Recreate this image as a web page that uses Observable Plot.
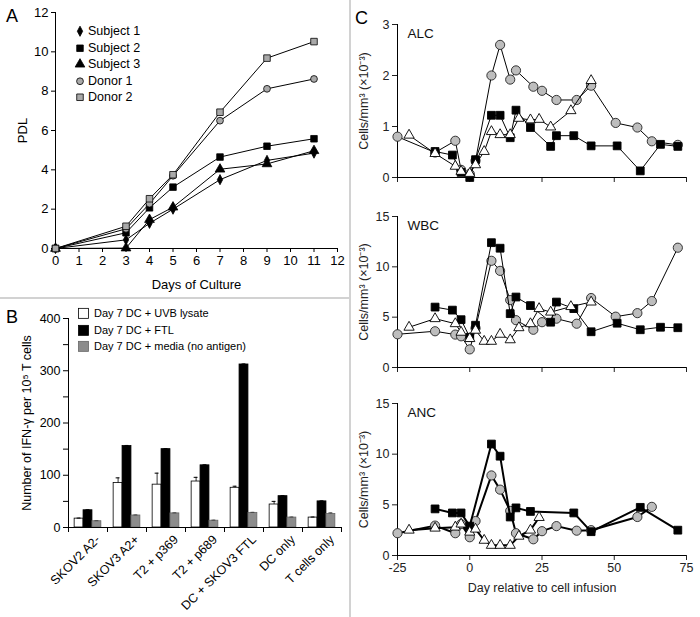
<!DOCTYPE html>
<html>
<head>
<meta charset="utf-8">
<script src="https://cdn.jsdelivr.net/npm/d3@7"></script>
<script src="https://cdn.jsdelivr.net/npm/@observablehq/plot@0.6"></script>
<style>
  body { margin: 0; background: #fff; }
  #fig { position: relative; width: 700px; height: 617px; overflow: hidden; background: #fff;
         font-family: "Liberation Sans", Arial, sans-serif; color: #000; }
  .panel { position: absolute; }
  .letter { position: absolute; font-size: 18px; line-height: 1; }
  .legend { position: absolute; line-height: 1; }
  .legend .row { display: flex; align-items: center; white-space: nowrap; }
  .legend svg { flex: none; }
  .vline { position: absolute; left: 349px; top: 0; width: 2px; height: 617px; background: #d2d2d2; }
  .hline { position: absolute; left: 0; top: 297px; width: 349px; height: 2px; background: #d2d2d2; }
</style>
</head>
<body>
<div id="fig"></div>
<script>
// ---------------- Panel A data ----------------
const cultureDays = [0, 3, 4, 5, 7, 9, 11];
const seriesA = ["Subject 1", "Subject 2", "Subject 3", "Donor 1", "Donor 2"];
const subject1 = [0, 0.44, 1.28, 2.0, 3.5, 4.48, 4.85];
const subject2 = [0, 0.8, 2.07, 3.12, 4.65, 5.2, 5.58];
const subject3 = [0, 0.02, 1.47, 2.1, 4.03, 4.3, 4.97];
const donor1 = [0, 1.0, 2.28, 3.7, 6.5, 8.12, 8.62];
const donor2 = [0, 1.13, 2.53, 3.75, 6.93, 9.68, 10.52];
const dayTicksA = [0, 1, 2, 3, 4, 5, 6, 7, 8, 9, 10, 11, 12];
const pdlTicks = [0, 2, 4, 6, 8, 10, 12];

// ---------------- Panel B data ----------------
const targets = ["SKOV2 A2-", "SKOV3 A2+", "T2 + p369", "T2 + p689", "DC + SKOV3 FTL", "DC only", "T cells only"];
const conditions = ["Day 7 DC + UVB lysate", "Day 7 DC + FTL", "Day 7 DC + media (no antigen)"];
const uvb = [17, 85, 82, 88, 76, 44, 19];
const uvbErr = [1, 10, 22, 8, 3, 6, 1];
const ftl = [33, 156, 150, 119, 312, 60, 50];
const ftlErr = [1, 1, 1, 1, 1, 1, 1];
const media = [12, 23, 27, 13, 28, 19, 26];
const mediaErr = [1, 1, 1, 1, 1, 1, 2];
const ifnTicks = [0, 50, 100, 150, 200, 250, 300, 350, 400];

// ---------------- Panel C data ----------------
const dayTicksC = [-25, 0, 25, 50, 75];
// gray circles
const circleDays = [-25, -12, -5, -3, 0, 2, 7.5, 10.5, 14, 16, 22, 25, 30, 37, 42, 50.5, 58, 63, 72];
const circleALC = [0.8, 0.49, 0.72, 0.15, 0.07, 0.33, 2.0, 2.6, 1.92, 2.1, 1.78, 1.7, 1.52, 1.52, 1.8, 1.07, 0.98, 0.71, 0.64];
const circleWBC = [3.3, 3.6, 3.27, 3.1, 1.8, 3.9, 10.6, 9.6, 6.7, 4.7, 3.75, 4.5, 4.85, 4.35, 6.9, 5.05, 5.4, 6.6, 11.9];
const circleANC = [2.2, 2.95, 2.2, 3.1, 1.8, 3.4, 7.9, 6.5, 4.4, 2.2, 1.6, 2.4, 2.9, 2.45, 2.5, null, 3.8, 4.8, null];
// black squares
const squareDays = [-12, -6, -3, 0, 2, 7.5, 10.5, 14, 16, 21, 28, 30, 36, 42, 51, 59, 66, 72];
const squareALC = [0.51, 0.44, 0.1, 0.0, 0.35, 1.22, 1.22, 0.78, 1.32, 0.98, 0.61, 0.82, 0.82, 0.62, 0.62, 0.13, 0.65, 0.61];
const squareWBC = [6.0, 5.7, 4.75, 3.0, 4.2, 12.4, 11.85, 5.35, 7.0, 6.15, 4.5, 6.5, 5.85, 3.55, 4.4, 3.75, 4.0, 3.95];
const squareANC = [4.6, 4.2, 4.2, 2.9, null, 11.0, 9.8, 3.8, 4.7, 4.35, null, null, 4.2, 2.35, null, 4.75, null, 2.5];
// white triangles
const triangleDays = [-21, -12, -5, -3, 0, 2, 5, 7.5, 10.5, 14, 17, 21, 24, 28, 35, 42];
const triangleALC = [0.83, 0.47, 0.22, 0.12, 0.08, 0.25, 0.51, 0.9, 0.84, 0.84, 1.16, 1.13, 1.14, 0.99, 1.31, 1.9];
const triangleWBC = [4.0, 4.85, 4.35, 3.5, 2.87, 3.7, 2.6, 2.6, 3.3, 2.75, 3.95, 4.35, 5.85, 5.5, 6.05, 6.5];
const triangleANC = [2.5, 2.7, 2.8, 3.1, 2.3, 2.6, 1.5, 1.0, 1.0, 1.0, 1.9, 2.5, 3.75, null, null, null];

// ---------------- helpers ----------------
const FONT = '"Liberation Sans", Arial, sans-serif';
const fig = document.getElementById("fig");

const tallDiamond = {
  draw(ctx, size) {
    const s = Math.sqrt(size);
    const h = s * 0.8, w = s * 0.42;
    ctx.moveTo(0, -h); ctx.lineTo(w, 0); ctx.lineTo(0, h); ctx.lineTo(-w, 0); ctx.closePath();
  }
};

function place(node, left, top) {
  const wrap = document.createElement("div");
  wrap.className = "panel";
  wrap.style.left = left + "px";
  wrap.style.top = top + "px";
  wrap.appendChild(node);
  fig.appendChild(wrap);
  return wrap;
}

function addDiv(cls, left, top, html, extra) {
  const d = document.createElement("div");
  d.className = cls;
  d.style.left = left + "px";
  d.style.top = top + "px";
  d.innerHTML = html;
  if (extra) Object.assign(d.style, extra);
  fig.appendChild(d);
  return d;
}

function legend(items, {left, top, fontSize, rowH, boxW, gap}) {
  const d = document.createElement("div");
  d.className = "legend";
  d.style.left = left + "px";
  d.style.top = top + "px";
  d.style.fontSize = fontSize + "px";
  for (const it of items) {
    const row = document.createElement("div");
    row.className = "row";
    row.style.height = rowH + "px";
    const svg = d3.create("svg").attr("width", boxW).attr("height", rowH);
    if (it.rect) {
      svg.append("rect").attr("x", 0.5).attr("y", (rowH - it.h) / 2).attr("width", it.w).attr("height", it.h)
        .attr("fill", it.fill).attr("stroke", it.stroke).attr("stroke-width", 0.8);
    } else {
      svg.append("path").attr("transform", `translate(${boxW / 2},${rowH / 2})`)
        .attr("d", d3.symbol(it.symbol, it.size)())
        .attr("fill", it.fill).attr("stroke", it.stroke).attr("stroke-width", 0.8);
    }
    row.appendChild(svg.node());
    const span = document.createElement("span");
    span.style.marginLeft = gap + "px";
    span.textContent = it.label;
    row.appendChild(span);
    d.appendChild(row);
  }
  fig.appendChild(d);
}

// ---------------- Panel A ----------------
const valuesA = [subject1, subject2, subject3, donor1, donor2];
const tableA = seriesA.flatMap((name, k) => cultureDays.map((day, i) => ({name, day, pdl: valuesA[k][i]})));
const styleA = {
  "Subject 1": {symbol: tallDiamond, fill: "#000", stroke: "#000", r: 3.6},
  "Subject 2": {symbol: "square", fill: "#000", stroke: "#000", r: 3.7},
  "Subject 3": {symbol: "triangle", fill: "#000", stroke: "#000", r: 3.6},
  "Donor 1": {symbol: "circle", fill: "#a9a9a9", stroke: "#000", r: 3.4},
  "Donor 2": {symbol: "square", fill: "#a9a9a9", stroke: "#000", r: 3.7}
};

const plotA = Plot.plot({
  width: 349, height: 298,
  marginLeft: 55, marginRight: 12, marginTop: 12, marginBottom: 50,
  style: {fontFamily: FONT, fontSize: "13px", color: "#000", background: "transparent", overflow: "visible"},
  x: {domain: [0, 12], ticks: dayTicksA, tickSize: 4, tickPadding: 3, label: "Days of Culture",
      labelAnchor: "center", labelOffset: 40, labelArrow: "none"},
  y: {domain: [0, 12], ticks: pdlTicks, tickSize: 4, tickPadding: 3, label: "PDL",
      labelAnchor: "center", labelOffset: 38, labelArrow: "none"},
  marks: [
    Plot.ruleY([0], {stroke: "#000"}),
    Plot.ruleX([0], {stroke: "#000"}),
    Plot.line(tableA, {x: "day", y: "pdl", z: "name", stroke: "#000", strokeWidth: 1}),
    ...seriesA.map(name => Plot.dot(tableA.filter(d => d.name === name),
      {x: "day", y: "pdl", strokeWidth: 0.8, ...styleA[name]}))
  ]
});
place(plotA, 0, 0);
legend(seriesA.map(name => ({
  label: name, symbol: styleA[name].symbol === "square" ? d3.symbolSquare :
    styleA[name].symbol === "triangle" ? d3.symbolTriangle :
    styleA[name].symbol === "circle" ? d3.symbolCircle : tallDiamond,
  size: Math.PI * styleA[name].r * styleA[name].r, fill: styleA[name].fill, stroke: styleA[name].stroke
})), {left: 74, top: 23, fontSize: 12.5, rowH: 16.5, boxW: 12, gap: 2});

// ---------------- Panel B ----------------
const valuesB = [uvb, ftl, media];
const errorsB = [uvbErr, ftlErr, mediaErr];
const fillsB = ["#ffffff", "#000000", "#8c8c8c"];
const strokesB = ["#000000", "#000000", "#666666"];
const tableB = targets.flatMap((t, i) => conditions.map((c, k) => ({t, i, k, v: valuesB[k][i], e: errorsB[k][i]})));
const outer = 0.1575, bw = (1 - 2 * outer) / 3;
const bx1 = d => d.i + outer + d.k * bw;
const bx2 = d => d.i + outer + (d.k + 1) * bw;
const bxc = d => d.i + outer + (d.k + 0.5) * bw;

const plotB = Plot.plot({
  width: 349, height: 319,
  marginLeft: 68, marginRight: 8, marginTop: 20, marginBottom: 90,
  style: {fontFamily: FONT, fontSize: "12.5px", color: "#000", background: "transparent", overflow: "visible"},
  x: {domain: [0, 7], ticks: d3.range(8), tickFormat: () => "", tickSize: 5, label: null},
  y: {domain: [0, 400], ticks: ifnTicks, tickFormat: d => (d % 100 === 0 ? d : ""), tickSize: 5, tickPadding: 3,
      label: "Number of IFN-γ per 10⁵ T cells", labelAnchor: "center", labelOffset: 46, labelArrow: "none"},
  marks: [
    ...conditions.map((c, k) => Plot.rectY(tableB.filter(d => d.k === k), {
      x1: bx1, x2: bx2, y1: 0, y2: "v", fill: fillsB[k], stroke: strokesB[k], strokeWidth: 0.8
    })),
    Plot.ruleX(tableB, {x: bxc, y1: "v", y2: d => d.v + d.e, stroke: d => (d.k === 2 ? "#444" : "#000"), strokeWidth: 0.8}),
    Plot.ruleY(tableB, {y: d => d.v + d.e, x1: d => bxc(d) - 0.05, x2: d => bxc(d) + 0.05,
      stroke: d => (d.k === 2 ? "#444" : "#000"), strokeWidth: 1}),
    Plot.ruleY([0], {stroke: "#000"}),
    Plot.ruleX([0], {stroke: "#000"}),
    Plot.text(targets, {x: (d, i) => i + 0.5, frameAnchor: "bottom", text: d => d, rotate: -45,
      textAnchor: "end", lineAnchor: "middle", dx: 10, dy: 10, fill: "#000"})
  ]
});
place(plotB, 0, 298);
legend(conditions.map((c, k) => ({label: c, rect: true, w: 10, h: 10, fill: fillsB[k], stroke: strokesB[k]})),
  {left: 78, top: 305, fontSize: 11, rowH: 16.7, boxW: 12, gap: 4});

// ---------------- Panel C ----------------
const measures = {
  ALC: {circle: circleALC, square: squareALC, triangle: triangleALC, max: 3, ticks: [0, 1, 2, 3]},
  WBC: {circle: circleWBC, square: squareWBC, triangle: triangleWBC, max: 15, ticks: [0, 5, 10, 15]},
  ANC: {circle: circleANC, square: squareANC, triangle: triangleANC, max: 15, ticks: [0, 5, 10, 15]}
};
const daysC = {circle: circleDays, square: squareDays, triangle: triangleDays};
const styleC = {
  circle: {symbol: "circle", fill: "#bdbdbd", stroke: "#222", r: 4.6},
  square: {symbol: "square", fill: "#000", stroke: "#000", r: 4.4},
  triangle: {symbol: "triangle", fill: "#fff", stroke: "#000", r: 3.8}
};

function panelC(name, {height, marginTop, marginBottom, showX, lineW, titleDy}) {
  const m = measures[name];
  const marks = [Plot.ruleY([0], {stroke: "#000"}), Plot.ruleX([-25], {stroke: "#000"})];
  for (const s of ["circle", "square", "triangle"]) {
    const rows = daysC[s].map((day, i) => ({day, v: m[s][i]})).filter(d => d.v != null);
    marks.push(Plot.line(rows, {x: "day", y: "v", stroke: "#000", strokeWidth: lineW}));
    marks.push(Plot.dot(rows, {x: "day", y: "v", strokeWidth: 0.9, ...styleC[s]}));
  }
  marks.push(Plot.text([name], {frameAnchor: "top-left", text: d => d, dx: 10, dy: titleDy,
    fontSize: 13.5, fill: "#111"}));
  return Plot.plot({
    width: 350, height, marginLeft: 47, marginRight: 14, marginTop, marginBottom,
    style: {fontFamily: FONT, fontSize: "12.5px", color: "#222", background: "transparent", overflow: "visible"},
    x: {domain: [-25, 75], ticks: dayTicksC, tickSize: 5, tickPadding: 3,
        tickFormat: showX ? d => String(d) : () => "",
        label: showX ? "Day relative to cell infusion" : null, labelAnchor: "center", labelOffset: 36, labelArrow: "none"},
    y: {domain: [0, m.max], ticks: m.ticks, tickSize: 5, tickPadding: 3, tickFormat: d => String(d),
        label: "Cells/mm³ (×10⁻³)", labelAnchor: "center", labelOffset: 38, labelArrow: "none"},
    marks
  });
}
place(panelC("ALC", {height: 195, marginTop: 24, marginBottom: 18, showX: false, lineW: 1, titleDy: 4}), 350, 0);
place(panelC("WBC", {height: 190, marginTop: 21, marginBottom: 18, showX: false, lineW: 1, titleDy: 4}), 350, 195);
place(panelC("ANC", {height: 232, marginTop: 18, marginBottom: 62, showX: true, lineW: 2, titleDy: 4}), 350, 385);

// ---------------- panel letters and dividers ----------------
addDiv("letter", 6, 7, "A");
addDiv("letter", 6, 308, "B");
addDiv("letter", 355, 9, "C");
addDiv("vline", 349, 0, "");
addDiv("hline", 0, 297, "");
</script>
</body>
</html>
